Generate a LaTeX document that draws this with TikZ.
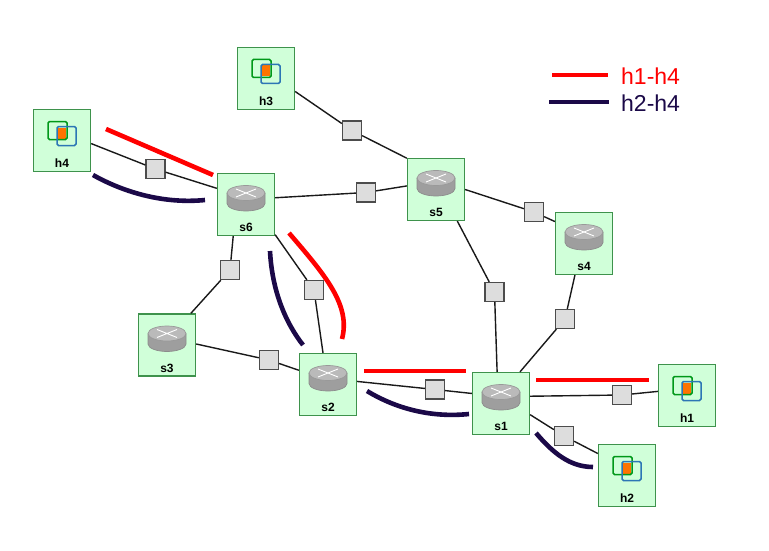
\documentclass[tikz,border=0pt]{standalone}
\usepackage{fontspec}
\setmainfont{Liberation Sans}
\definecolor{boxfill}{RGB}{208,255,217}
\definecolor{boxedge}{RGB}{62,146,76}
\definecolor{navypath}{RGB}{27,9,72}
\definecolor{linkfill}{RGB}{221,221,221}
\tikzset{
  devbox/.style={draw=boxedge,fill=boxfill,line width=1.3pt,minimum width=57pt,minimum height=62pt,inner sep=0pt},
  devlabel/.style={font=\bfseries\fontsize{12}{13}\selectfont,inner sep=0pt},
  linkbox/.style={draw=black!70,fill=linkfill,line width=1.3pt,minimum size=19pt,inner sep=0pt},
  wire/.style={line width=1.4pt,black!90},
  redroute/.style={red,line width=4.6pt},
  navyroute/.style={navypath,line width=4.6pt}
}
% router and host icons, drawn around the centre of their box
\newcommand{\routericon}{
  \fill[black!38] (-19,-11.5) -- (-19,-1) arc[start angle=180,end angle=0,x radius=19,y radius=7.5] -- (19,-11.5) -- cycle;
  \draw[black!45,line width=.7pt] (-19,-11.5) -- (-19,-1) arc[start angle=180,end angle=0,x radius=19,y radius=7.5] -- (19,-11.5);
  \draw[black!40,line width=.7pt,fill=black!27] (0,-11.5) ellipse[x radius=19,y radius=7.5];
  \draw[white,line width=.9pt] (-10,-15.5) -- (10,-7.5) (-10,-7.5) -- (10,-15.5);
}
\newcommand{\hosticon}{
  \fill[orange!90!red] (-4.5,-13) rectangle (4,-2);
  \draw[rounded corners=1.5pt,line width=1.5pt,green!55!black!90!cyan] (-14,-19) rectangle (5,-1);
  \draw[rounded corners=1.5pt,line width=1.5pt,cyan!60!blue!85!black] (-5,-14) rectangle (14,5);
}
\begin{document}
\begin{tikzpicture}[x=1pt,y=-1pt]
\useasboundingbox (0,0) rectangle (769,551);

% switches
\foreach \nm/\px/\py in {s1/501/403.5,s2/328/384.5,s3/167/345,s4/584/243.5,s5/436/189.5,s6/246/204.5}{
  \node[devbox] (\nm) at (\px,\py) {};
  \begin{scope}[shift={(\px,\py)}]
    \routericon
  \end{scope}
  \node[devlabel] (\nm lab) at (\px,\py+23) {\nm};
}
% hosts
\foreach \nm/\px/\py in {h1/687/395.5,h2/627/475.5,h3/266/78.5,h4/62/140.5}{
  \node[devbox] (\nm) at (\px,\py) {};
  \begin{scope}[shift={(\px,\py)}]
    \hosticon
  \end{scope}
  \node[devlabel] (\nm lab) at (\px,\py+23) {\nm};
}
% link boxes
\foreach \nm/\px/\py in {la/155.5/169,lb/366/192.5,lc/534/212,ld/352/130.5,le/494.5/292,
  lf/565/319,lg/230/270,lh/314/290,li/269/360,lj/435/389.5,lk/622/395,ll/564/436}{
  \node[linkbox] (\nm) at (\px,\py) {};
}

\draw[wire] (h4.-6) -- (la) -- (s6.151);
\draw[wire] (h3.-24) -- (ld) -- (s5.133);
\draw[wire] (s6.13) -- (lb) -- (s5.173);
\draw[wire] (s5.0) -- (lc) -- (s4.143);
\draw[wire] (s5.-56) -- (le) -- (s1.97);
\draw[wire] (s4.-106) -- (lf) -- (s1.59);
\draw[wire] (s6.-112) -- (lg) -- (s3.53);
\draw[wire] (s6.-46) -- (lh) -- (s2.99);
\draw[wire] (s3.2) -- (li) -- (s2.154);
\draw[wire] (s2.6) -- (lj) -- (s1.161);
\draw[wire] (s1.14) -- (lk) -- (h1.172);
\draw[wire] (s1.-21) -- (ll) -- (h2.143);

% h1-h4
\draw[redroute] (106,129) -- (213,175);
\draw[redroute] (289,233) .. controls (325,275) and (351,305) .. (342,339);
\draw[redroute] (364,371) -- (466,371);
\draw[redroute] (536,380) -- (649,380);
% h2-h4
\draw[navyroute] (93,175) .. controls (125,193) and (165,204) .. (205,200);
\draw[navyroute] (270,251) .. controls (272,290) and (285,322) .. (303,345);
\draw[navyroute] (367,391) .. controls (395,408) and (430,418) .. (469,414);
\draw[navyroute] (536,433) .. controls (553,453) and (570,467) .. (593,467);

% legend
\coordinate (redA) at (552,75);
\coordinate (redB) at (608,75);
\coordinate (navyA) at (549,102);
\coordinate (navyB) at (609,102);
\draw[redroute] (redA) -- (redB);
\draw[navyroute] (navyA) -- (navyB);
\node[anchor=west,inner sep=0pt,text=red,font=\fontsize{23}{25}\selectfont] (redlab) at (621,76) {h1-h4};
\node[anchor=west,inner sep=0pt,text=navypath,font=\fontsize{23}{25}\selectfont] (navylab) at (621,103) {h2-h4};
\end{tikzpicture}
\end{document}
